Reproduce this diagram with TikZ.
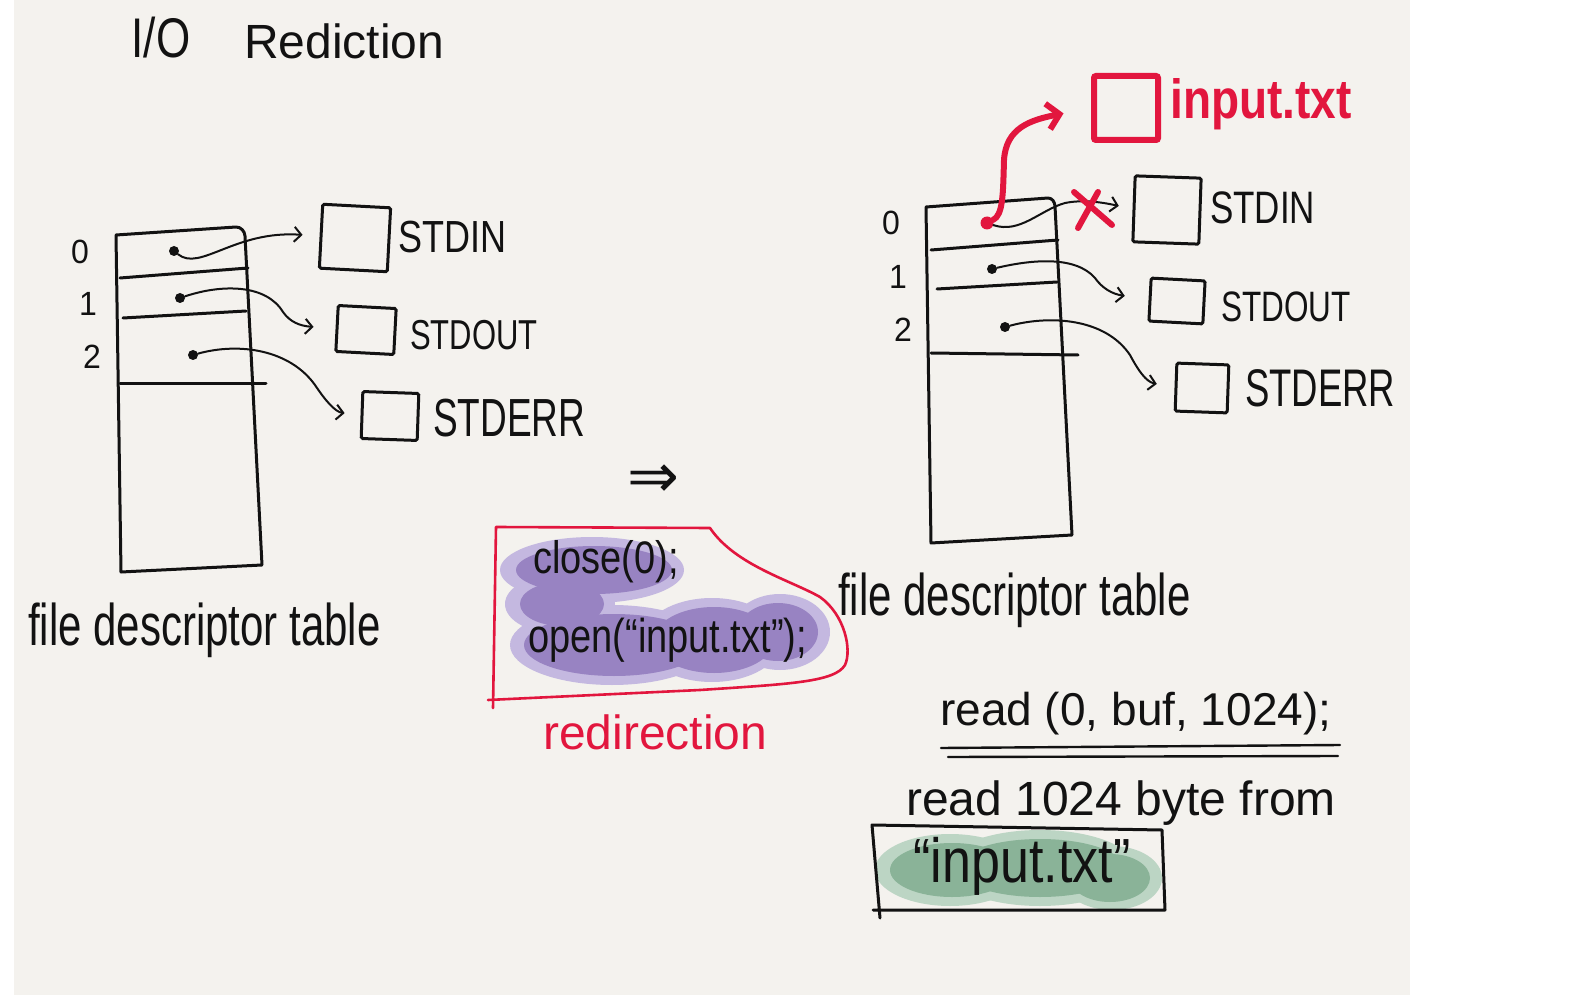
\documentclass[tikz,border=0pt]{standalone}
\usepackage{fontspec}
\usepackage{graphicx}
\setmainfont{Liberation Sans}
\newfontfamily\symfont{DejaVu Sans}
\usetikzlibrary{arrows.meta}
\definecolor{paper}{RGB}{244,242,238}
\definecolor{inkred}{RGB}{226,22,62}
\definecolor{ink}{RGB}{18,18,18}
\definecolor{purA}{RGB}{196,184,224}
\definecolor{purB}{RGB}{152,131,194}
\definecolor{grnA}{RGB}{188,213,196}
\definecolor{grnB}{RGB}{138,179,152}
\newcommand{\hw}[3]{\fontsize{#1}{#1}\selectfont\scalebox{1}[#2]{#3}}
\tikzset{
  inkline/.style={draw=ink, line width=3pt, line cap=round, line join=round},
  conn/.style={draw=ink, line width=2pt, line cap=round, -{Straight Barb[length=7pt,width=15pt,line width=2pt]}},
  redconn/.style={draw=inkred, line width=6pt, line cap=round, -{Straight Barb[length=12pt,width=26pt,line width=6pt]}},
  redthick/.style={draw=inkred, line width=6pt, line cap=round, line join=round},
  redthin/.style={draw=inkred, line width=2.6pt, line cap=round, line join=round},
  fbox/.style={draw=ink, line width=3pt, rectangle, inner sep=0pt, rounded corners=1.5pt},
  dot/.style={circle, fill=ink, inner sep=0pt, minimum size=10pt},
  lbl/.style={inner sep=0pt, text=ink},
  rlbl/.style={inner sep=0pt, text=inkred}
}
\begin{document}
\begin{tikzpicture}[x=1pt,y=-1pt]
\useasboundingbox (0,0) rectangle (1572,1000);
\fill[white] (0,0) rectangle (1572,1000);
\fill[paper] (14,0) rectangle (1410,995);

% title
\node[lbl] (tio) at (161,38) {\hw{44}{1.27}{I/O}};
\node[lbl, anchor=west] (tred) at (244,41) {\hw{48}{1.0}{Rediction}};

% ---------- left table ----------
\draw[inkline] (116,235) -- (236,227) to[out=0,in=95] (245,236) -- (262,565) -- (121,572) -- cycle;
\draw[inkline] (120,278) -- (248,268);
\draw[inkline] (123,318) -- (246,311);
\draw[inkline] (120,383) -- (266,383);
\node[lbl] (l0) at (80,252) {\hw{32}{1.05}{0}};
\node[lbl] (l1) at (88,304) {\hw{32}{1.05}{1}};
\node[lbl] (l2) at (92,357) {\hw{32}{1.05}{2}};
\node[dot] (ld0) at (174,251) {};
\node[dot] (ld1) at (180,298) {};
\node[dot] (ld2) at (193,355) {};

\node[fbox, minimum width=68pt, minimum height=64pt, rotate=-3] (lin) at (355,238) {};
\node[fbox, minimum width=58pt, minimum height=46pt, rotate=-3] (lout) at (366,330) {};
\node[fbox, minimum width=56pt, minimum height=47pt, rotate=-2] (lerr) at (390,416) {};
\node[lbl, anchor=west] (lint) at (398,237) {\hw{36}{1.25}{STDIN}};
\node[lbl, anchor=west] (loutt) at (410,335) {\hw{31}{1.35}{STDOUT}};
\node[lbl, anchor=west] (lerrt) at (433,418) {\hw{37}{1.45}{STDERR}};

\draw[conn, shorten >=17pt] (ld0) .. controls (200,272) and (235,230) .. (lin.west);
\draw[conn, shorten >=22pt] (ld1) .. controls (222,284) and (266,284) .. (283,312) .. controls (290,322) and (300,326) .. (lout.west);
\draw[conn, shorten >=16pt] (ld2) .. controls (240,342) and (290,350) .. (315,385) .. controls (325,400) and (335,412) .. (lerr.west);

\node[lbl, anchor=west] (lfdt) at (28,630) {\hw{42}{1.4}{file descriptor table}};

% ---------- middle ----------
\node[lbl] (impl) at (653,481) {\symfont\fontsize{62}{62}\selectfont ⇒};

% purple blob
\fill[purA] (592,570) ellipse [x radius=92, y radius=33];
\fill[purA] (560,604) ellipse [x radius=55, y radius=30];
\fill[purA] (612,645) ellipse [x radius=102, y radius=40];
\fill[purA] (712,640) ellipse [x radius=70, y radius=42];
\fill[purA] (780,632) ellipse [x radius=50, y radius=38];
\fill[purB] (594,570) ellipse [x radius=78, y radius=24];
\fill[purB] (562,604) ellipse [x radius=42, y radius=22];
\fill[purB] (614,645) ellipse [x radius=90, y radius=31];
\fill[purB] (714,640) ellipse [x radius=60, y radius=33];
\fill[purB] (778,632) ellipse [x radius=40, y radius=29];

\node[lbl, anchor=west] (cls) at (533,562) {\hw{38}{1.2}{close(0);}};
\node[lbl, anchor=west] (opn) at (528,640) {\hw{38}{1.25}{open(“input.txt”);}};

\draw[redthin] (493,708) -- (496,527) -- (710,528) .. controls (735,565) and (790,580) .. (820,597) .. controls (845,615) and (852,650) .. (845,665) .. controls (835,682) and (790,684) .. (700,690) -- (488,700);
\node[rlbl, anchor=west] (redir) at (543,732) {\hw{48}{1.0}{redirection}};

% ---------- right table ----------
\draw[inkline] (926,207) -- (1048,198) to[out=0,in=95] (1055,206) -- (1072,535) -- (931,543) -- cycle;
\draw[inkline] (931,250) -- (1058,240);
\draw[inkline] (937,289) -- (1057,282);
\draw[inkline] (931,353) -- (1078,355);
\node[lbl] (r0) at (891,223) {\hw{32}{1.05}{0}};
\node[lbl] (r1) at (898,277) {\hw{32}{1.05}{1}};
\node[lbl] (r2) at (903,330) {\hw{32}{1.05}{2}};
\node[circle, fill=inkred, inner sep=0pt, minimum size=13pt] (rd0) at (987,223) {};
\node[dot] (rd1) at (992,269) {};
\node[dot] (rd2) at (1005,327) {};

\node[draw=inkred, line width=6pt, rectangle, rounded corners=2pt, inner sep=0pt, minimum width=64pt, minimum height=64pt] (rbox) at (1126,108) {};
\node[rlbl, anchor=west] (rboxt) at (1170,104) {\hw{46}{1.2}{\bfseries input.txt}};

\node[fbox, minimum width=66pt, minimum height=66pt, rotate=-2] (rin) at (1167,210) {};
\node[fbox, minimum width=54pt, minimum height=43pt, rotate=-3] (rout) at (1177,301) {};
\node[fbox, minimum width=52pt, minimum height=48pt, rotate=-2] (rerr) at (1202,388) {};
\node[lbl, anchor=west] (rint) at (1210,208) {\hw{35}{1.3}{STDIN}};
\node[lbl, anchor=west] (routt) at (1221,307) {\hw{31.5}{1.35}{STDOUT}};
\node[lbl, anchor=west] (rerrt) at (1245,388) {\hw{36.5}{1.45}{STDERR}};

\draw[conn, shorten >=14pt] (rd0) .. controls (1020,234) and (1040,210) .. (1065,203) .. controls (1085,199) and (1105,203) .. (rin.west);
\draw[redconn, shorten >=28pt] (rd0) .. controls (1003,215) and (1003,195) .. (1004,160) .. controls (1006,128) and (1030,120) .. (rbox.west);
\draw[redthick] (1074,192) -- (1112,225);
\draw[redthick] (1098,192) -- (1078,228);

\draw[conn, shorten >=24pt] (rd1) .. controls (1030,260) and (1075,255) .. (1095,278) .. controls (1102,288) and (1112,294) .. (rout.west);
\draw[conn, shorten >=18pt] (rd2) .. controls (1050,315) and (1105,318) .. (1130,355) .. controls (1138,370) and (1146,382) .. (rerr.west);

\node[lbl, anchor=west] (rfdt) at (838,600) {\hw{42}{1.4}{file descriptor table}};

% read call
\node[lbl, anchor=west] (rdc) at (940,714) {\hw{46}{1.0}{read (0, buf, 1024);}};
\draw[inkline, line width=2.4pt] (941,748) -- (1340,745);
\draw[inkline, line width=2.4pt] (948,757) -- (1338,756);
\node[lbl, anchor=west] (rdd) at (906,803) {\hw{48}{1.0}{read 1024 byte from}};

% green blob
\fill[grnA] (950,870) ellipse [x radius=75, y radius=36];
\fill[grnA] (1040,868) ellipse [x radius=95, y radius=38];
\fill[grnA] (1112,878) ellipse [x radius=50, y radius=32];
\fill[grnB] (952,870) ellipse [x radius=62, y radius=27];
\fill[grnB] (1040,868) ellipse [x radius=84, y radius=29];
\fill[grnB] (1110,878) ellipse [x radius=40, y radius=24];
\draw[inkline] (880,918) -- (872,825) -- (1162,830) -- (1165,910) -- (873,910);
\node[lbl] (inp) at (1022,866) {\hw{52}{1.2}{“input.txt”}};
\end{tikzpicture}
\end{document}
